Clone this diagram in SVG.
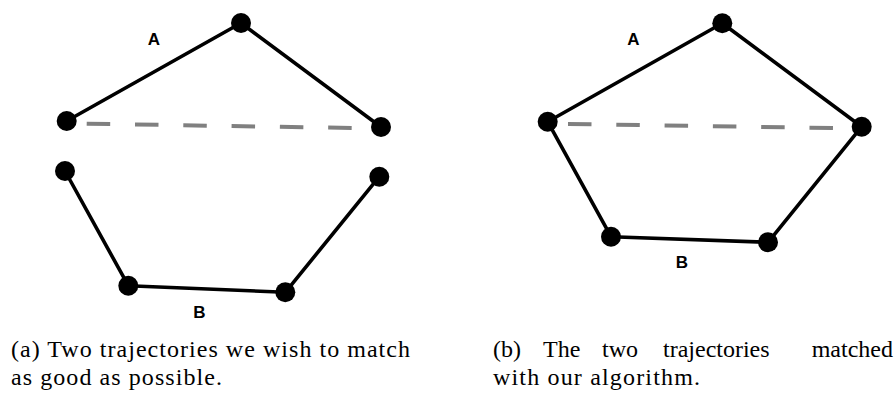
<svg xmlns="http://www.w3.org/2000/svg" width="896" height="394" viewBox="0 0 896 394">
<style>
.edge{fill:none;stroke:#000;stroke-width:3.6;stroke-linejoin:round}
.dash{fill:none;stroke:#808080;stroke-width:4;stroke-dasharray:23.5 24.8}
.pt{fill:#000}
.lbl{font-family:"Liberation Sans",Arial,sans-serif;font-weight:bold;font-size:17px;fill:#000;text-anchor:middle}
</style>
<rect width="896" height="394" fill="#fff"/>
<g id="connectors">
  <polyline class="edge" points="66.7,121 241,23 381,127"/>
  <polyline class="edge" points="65,171 128.3,285.7 285.3,292.3 379.3,176.7"/>
  <line class="dash" x1="86.7" y1="123.7" x2="352" y2="128"/>
  <polyline class="edge" points="547.7,121.7 722.3,23.3 861.7,126.7"/>
  <polyline class="edge" points="547.7,121.7 611,236.7 768,242.3 861.7,126.7"/>
  <line class="dash" x1="568" y1="124" x2="833" y2="128"/>
</g>
<g id="a-A1"><circle class="pt" cx="66.7" cy="121" r="10"/></g>
<g id="a-A2"><circle class="pt" cx="241" cy="23" r="10"/></g>
<g id="a-A3"><circle class="pt" cx="381" cy="127" r="10"/></g>
<g id="a-B1"><circle class="pt" cx="65" cy="171" r="10"/></g>
<g id="a-B2"><circle class="pt" cx="128.3" cy="285.7" r="10"/></g>
<g id="a-B3"><circle class="pt" cx="285.3" cy="292.3" r="10"/></g>
<g id="a-B4"><circle class="pt" cx="379.3" cy="176.7" r="10"/></g>
<g id="b-P1"><circle class="pt" cx="547.7" cy="121.7" r="10"/></g>
<g id="b-P2"><circle class="pt" cx="722.3" cy="23.3" r="10"/></g>
<g id="b-P3"><circle class="pt" cx="861.7" cy="126.7" r="10"/></g>
<g id="b-P4"><circle class="pt" cx="768" cy="242.3" r="10"/></g>
<g id="b-P5"><circle class="pt" cx="611" cy="236.7" r="10"/></g>
<g id="labels">
  <text class="lbl" x="154" y="45">A</text>
  <text class="lbl" x="199.5" y="318">B</text>
  <text class="lbl" x="633.5" y="45">A</text>
  <text class="lbl" x="682" y="268">B</text>
</g>
<g id="captions" font-family="'Liberation Serif', 'Times New Roman', Times, serif" font-size="24" fill="#000">
  <text x="11" y="357" textLength="399" lengthAdjust="spacing">(a) Two trajectories we wish to match</text>
  <text x="11" y="385" textLength="211" lengthAdjust="spacing">as good as possible.</text>
  <text x="493" y="357">(b)</text>
  <text x="543" y="357">The</text>
  <text x="602" y="357">two</text>
  <text x="663" y="357">trajectories</text>
  <text x="893" y="357" text-anchor="end">matched</text>
  <text x="493" y="385" textLength="207" lengthAdjust="spacing">with our algorithm.</text>
</g>
</svg>
